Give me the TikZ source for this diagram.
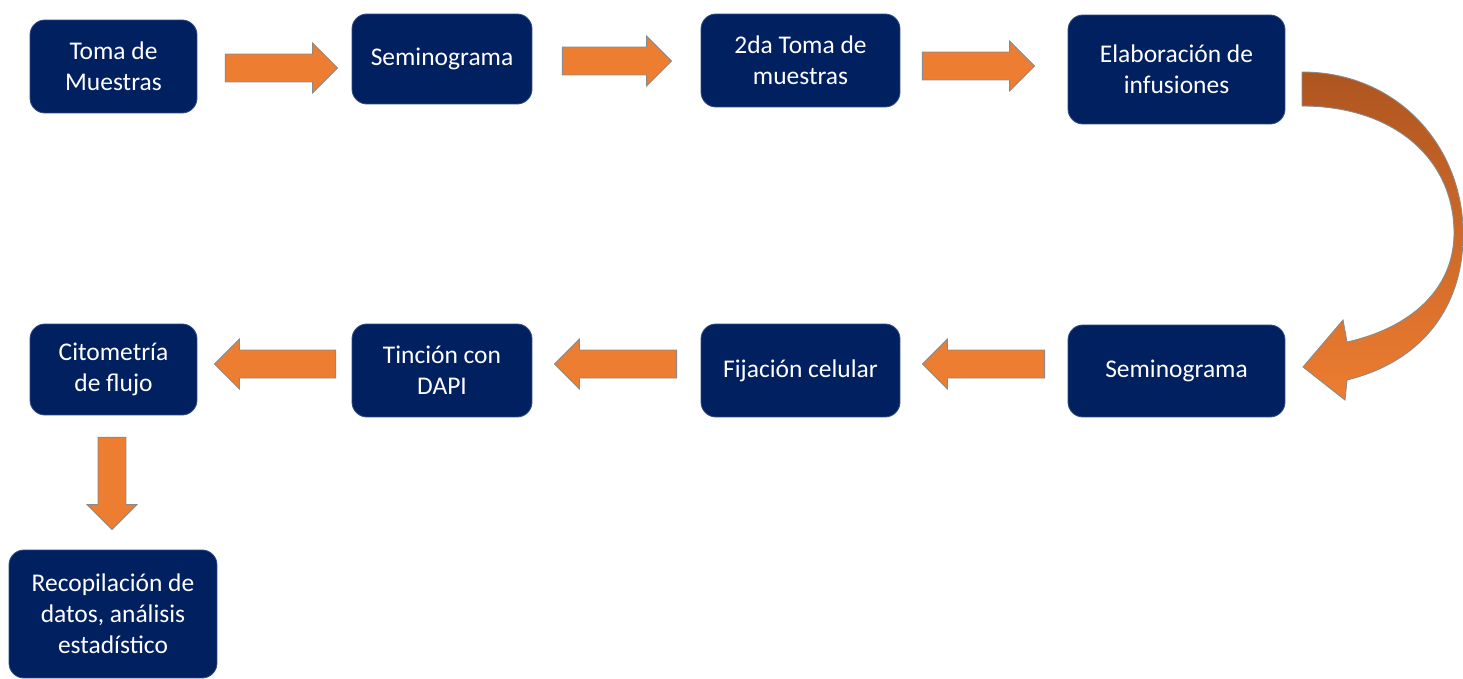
\documentclass[tikz,border=0pt]{standalone}
\usepackage{fontspec}
\setmainfont{Carlito}
\usetikzlibrary{calc}
\definecolor{navy}{HTML}{002060}
\definecolor{navyedge}{HTML}{2E4A80}
\definecolor{arroworange}{HTML}{ED7D31}
\definecolor{arrowbrown}{HTML}{AE5520}
\definecolor{arrowedge}{HTML}{8A8A8A}
\newcommand{\stagefont}{\fontsize{14.5}{17.6}\selectfont}
\tikzstyle{stage}=[rectangle, rounded corners=0.3cm, draw=navyedge, line width=0.5pt, fill=navy, text=white, align=center, inner sep=0pt, font=\stagefont]
\tikzstyle{block}=[draw=arrowedge, fill=arroworange, line width=0.5pt, line join=miter,
  to path={($(\tikztotarget)!0.5cm!(\tikztostart)$) coordinate (bh)
    ($(\tikztostart)!0.28cm!90:(\tikztotarget)$) -- ($(bh)!0.28cm!90:(\tikztotarget)$)
    -- ($(bh)!0.5cm!90:(\tikztotarget)$) -- (\tikztotarget)
    -- ($(bh)!0.5cm!-90:(\tikztotarget)$) -- ($(bh)!0.28cm!-90:(\tikztotarget)$)
    -- ($(\tikztostart)!0.28cm!-90:(\tikztotarget)$) -- cycle}]

\begin{document}
\begin{tikzpicture}[x=0.02cm, y=-0.02cm]

\useasboundingbox (0,0) rectangle (1463,679);

\node [stage, minimum width=3.34cm, minimum height=1.86cm] (tm) at (113.5, 66.5) {Toma de\\Muestras};
\node [stage, minimum width=3.60cm, minimum height=1.80cm] (sg1) at (442, 59) {Seminograma};
\node [stage, minimum width=3.98cm, minimum height=1.86cm] (sm) at (800.5, 60.5) {2da Toma de\\muestras};
\node [stage, minimum width=4.34cm, minimum height=2.18cm] (el) at (1176.5, 69.5) {Elaboración de\\infusiones};

\node [stage, minimum width=4.34cm, minimum height=1.84cm] (sg2) at (1176.5, 371) {Seminograma};
\node [stage, minimum width=3.98cm, minimum height=1.86cm] (fc) at (800.5, 370.5) {Fijación celular};
\node [stage, minimum width=3.60cm, minimum height=1.86cm] (td) at (442, 370.5) {Tinción con\\DAPI};
\node [stage, minimum width=3.34cm, minimum height=1.82cm] (cf) at (113.5, 369.5) {Citometría\\de flujo};

\node [stage, minimum width=4.16cm, minimum height=2.56cm] (rd) at (113, 614) {Recopilación de\\datos, análisis\\estadístico};

\draw [block] ($(tm.east) + (28, 1.5)$) to ($(sg1.west) + (-14, 9)$);
\draw [block] ($(sg1.east) + (30, 2)$) to ($(sm.west) + (-29, 0.5)$);
\draw [block] ($(sm.east) + (22, 5.5)$) to ($(el.west) + (-33, -3.5)$);

% curved arrow down the right side
\draw [draw=arrowedge, line width=0.5pt, top color=arrowbrown, bottom color=arroworange]
  (1302, 72) .. controls (1400, 72) and (1466, 150) .. (1463, 240)
  .. controls (1461, 310) and (1420, 362) .. (1347, 380)
  -- (1345, 400) -- (1303, 367) -- (1343, 320) -- (1347, 342)
  .. controls (1410, 328) and (1453, 290) .. (1454, 235)
  .. controls (1455, 160) and (1395, 106) .. (1302, 106) -- cycle;

\draw [block] ($(sg2.west) + (-23, -7)$) to ($(fc.east) + (22, -6.5)$);
\draw [block] ($(fc.west) + (-24, -6.5)$) to ($(td.east) + (22, -6.5)$);
\draw [block] ($(td.west) + (-16, -6.5)$) to ($(cf.east) + (17, -5.5)$);

\draw [block] ($(cf.south) + (-1.5, 22)$) to ($(rd.north) + (-1, -20)$);

\end{tikzpicture}
\end{document}
